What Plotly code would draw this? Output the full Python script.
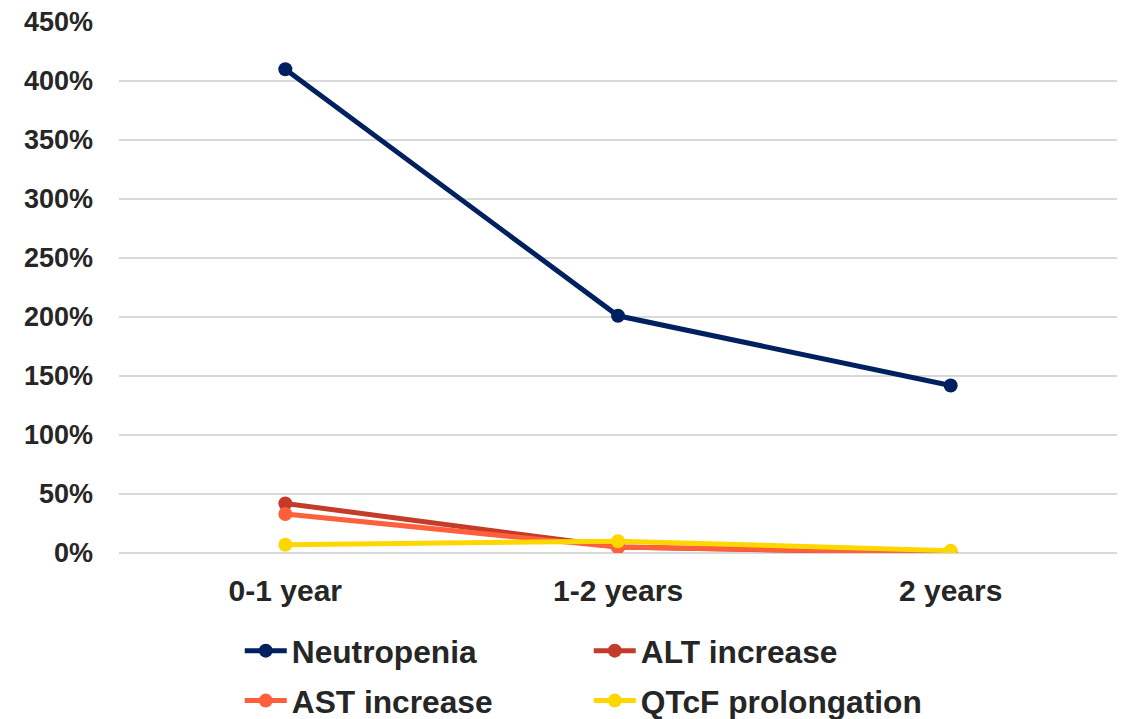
import plotly.graph_objects as go

# Adverse-event incidence by time on treatment (percent)
periods = ["0-1 year", "1-2 years", "2 years"]
neutropenia = [410, 201, 142]
alt_increase = [42, 5, 0]
ast_increase = [33, 5, 0.3]
qtcf_prolongation = [7, 10, 2]

y_ticks = [0, 50, 100, 150, 200, 250, 300, 350, 400, 450]
y_tick_labels = [f"{v}%" for v in y_ticks]

series = [
    ("Neutropenia", neutropenia, "#002060", "legend"),
    ("ALT increase", alt_increase, "#C43B2A", "legend"),
    ("AST increase", ast_increase, "#FF5F3A", "legend2"),
    ("QTcF prolongation", qtcf_prolongation, "#FFD700", "legend2"),
]

fig = go.Figure()
for name, values, color, leg in series:
    fig.add_trace(go.Scatter(
        x=periods, y=values, name=name, mode="lines+markers",
        line=dict(color=color, width=5),
        marker=dict(color=color, size=14),
        legend=leg,
    ))

text_color = "#262626"
font_family = "Liberation Sans, Arial, sans-serif"

legend_common = dict(
    orientation="h", xanchor="left", yanchor="middle",
    entrywidth=292, entrywidthmode="pixels",
    font=dict(family=font_family, size=31.7, color=text_color, weight="bold"),
    bgcolor="rgba(0,0,0,0)", itemwidth=42,
)

fig.update_layout(
    width=1127, height=719,
    margin=dict(l=119, r=10, t=22, b=166, autoexpand=False),
    plot_bgcolor="white", paper_bgcolor="white",
    font=dict(family=font_family, color=text_color),
    legend=dict(x=0.121, y=-0.1846, **legend_common),
    legend2=dict(x=0.121, y=-0.2787, **legend_common),
    xaxis=dict(
        type="category", range=[-0.5, 2.5],
        showgrid=False, showline=False, zeroline=False,
        tickfont=dict(family=font_family, size=30, color=text_color, weight="bold"),
        ticklabelstandoff=17,
    ),
    yaxis=dict(
        range=[0, 450], tickvals=y_ticks, ticktext=y_tick_labels,
        showgrid=True, gridcolor="#D9D9D9", gridwidth=1.5,
        zeroline=True, zerolinecolor="#D9D9D9", zerolinewidth=1.5,
        showline=False,
        tickfont=dict(family=font_family, size=27, color=text_color, weight="bold"),
        ticklabelstandoff=25,
    ),
)

fig.write_html("out.html")
